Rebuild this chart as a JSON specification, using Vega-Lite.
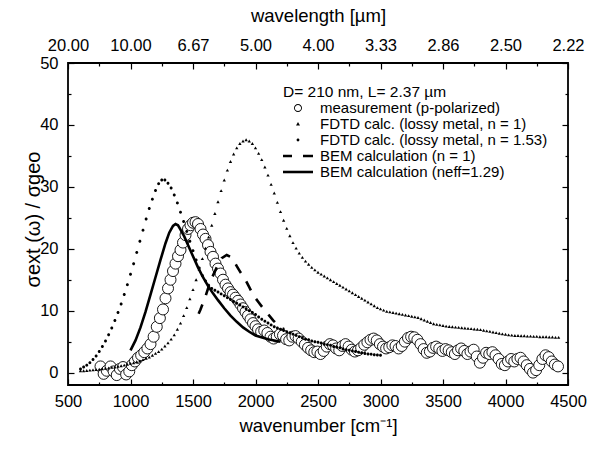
{
  "$schema": "https://vega.github.io/schema/vega-lite/v6.json",
  "width": 500,
  "height": 322,
  "autosize": {"type": "none"},
  "padding": {"left": 68, "top": 63, "right": 22, "bottom": 64},
  "background": "white",
  "config": {
    "view": {"stroke": "black", "strokeWidth": 1.8},
    "font": "Liberation Sans",
    "axis": {"grid": false, "domain": false, "labelFont": "Liberation Sans", "titleFont": "Liberation Sans", "labelColor": "black", "titleColor": "black", "tickColor": "black", "titleFontWeight": "normal", "labelFontSize": 16.5, "titleFontSize": 18.5, "tickWidth": 1.2}
  },
  "datasets": {
    "meas": [
      {"wn":760,"v":1.0},{"wn":785,"v":-0.2},{"wn":810,"v":0.3},{"wn":840,"v":1.0},{"wn":865,"v":0.2},{"wn":890,"v":-0.4},{"wn":915,"v":0.6},{"wn":940,"v":0.9},{"wn":965,"v":-0.3},{"wn":990,"v":0.2},
      {"wn":1010,"v":1.2},{"wn":1035,"v":1.8},{"wn":1060,"v":2.4},{"wn":1085,"v":2.8},{"wn":1110,"v":3.3},{"wn":1135,"v":3.9},{"wn":1160,"v":4.6},{"wn":1185,"v":5.8},{"wn":1210,"v":7.4},{"wn":1235,"v":8.8},
      {"wn":1260,"v":10.2},{"wn":1280,"v":12.0},{"wn":1300,"v":13.6},{"wn":1320,"v":15.0},{"wn":1340,"v":16.4},{"wn":1360,"v":17.6},{"wn":1380,"v":18.8},{"wn":1400,"v":19.8},{"wn":1420,"v":21.0},{"wn":1440,"v":22.2},
      {"wn":1460,"v":23.2},{"wn":1480,"v":23.8},{"wn":1500,"v":24.2},{"wn":1520,"v":24.3},{"wn":1540,"v":24.0},{"wn":1560,"v":23.2},{"wn":1580,"v":22.3},{"wn":1600,"v":21.6},{"wn":1620,"v":20.6},{"wn":1640,"v":19.5},
      {"wn":1660,"v":18.7},{"wn":1680,"v":17.6},{"wn":1700,"v":16.8},{"wn":1720,"v":16.0},{"wn":1740,"v":15.0},{"wn":1760,"v":14.2},{"wn":1780,"v":13.6},{"wn":1800,"v":13.0},{"wn":1820,"v":12.6},{"wn":1840,"v":12.1},
      {"wn":1860,"v":11.6},{"wn":1880,"v":11.0},{"wn":1900,"v":10.4},{"wn":1920,"v":9.8},{"wn":1940,"v":9.2},{"wn":1960,"v":8.6},{"wn":1980,"v":8.0},{"wn":2000,"v":7.5},{"wn":2020,"v":7.0},{"wn":2045,"v":6.6},
      {"wn":2070,"v":6.8},{"wn":2095,"v":6.4},{"wn":2120,"v":5.8},{"wn":2145,"v":5.5},{"wn":2170,"v":5.8},{"wn":2195,"v":6.2},{"wn":2220,"v":6.0},{"wn":2245,"v":5.4},{"wn":2270,"v":5.2},{"wn":2295,"v":5.8},
      {"wn":2320,"v":5.9},{"wn":2345,"v":5.5},{"wn":2370,"v":5.0},{"wn":2395,"v":4.5},{"wn":2420,"v":4.0},{"wn":2445,"v":3.6},{"wn":2470,"v":3.3},{"wn":2495,"v":3.4},{"wn":2520,"v":3.0},{"wn":2545,"v":3.5},
      {"wn":2570,"v":4.2},{"wn":2595,"v":4.6},{"wn":2620,"v":4.4},{"wn":2645,"v":3.9},{"wn":2670,"v":3.6},{"wn":2695,"v":4.3},{"wn":2720,"v":4.6},{"wn":2745,"v":4.2},{"wn":2770,"v":3.7},{"wn":2795,"v":3.4},
      {"wn":2820,"v":3.6},{"wn":2845,"v":4.0},{"wn":2870,"v":4.5},{"wn":2895,"v":4.9},{"wn":2920,"v":5.3},{"wn":2945,"v":5.5},{"wn":2970,"v":5.2},{"wn":2995,"v":4.6},{"wn":3020,"v":4.2},{"wn":3045,"v":3.9},
      {"wn":3070,"v":4.1},{"wn":3095,"v":4.4},{"wn":3120,"v":4.3},{"wn":3145,"v":3.9},{"wn":3170,"v":4.3},{"wn":3195,"v":5.0},{"wn":3220,"v":5.6},{"wn":3245,"v":5.8},{"wn":3270,"v":5.7},{"wn":3295,"v":5.3},
      {"wn":3320,"v":4.6},{"wn":3345,"v":3.8},{"wn":3370,"v":3.2},{"wn":3395,"v":3.4},{"wn":3420,"v":4.0},{"wn":3445,"v":4.2},{"wn":3470,"v":3.9},{"wn":3495,"v":3.5},{"wn":3520,"v":3.8},{"wn":3545,"v":3.6},
      {"wn":3570,"v":3.3},{"wn":3595,"v":3.0},{"wn":3620,"v":3.6},{"wn":3645,"v":3.9},{"wn":3670,"v":3.5},{"wn":3695,"v":3.0},{"wn":3720,"v":3.4},{"wn":3745,"v":3.7},{"wn":3770,"v":2.6},{"wn":3795,"v":1.6},
      {"wn":3820,"v":2.4},{"wn":3845,"v":3.2},{"wn":3870,"v":3.0},{"wn":3895,"v":3.3},{"wn":3920,"v":2.8},{"wn":3945,"v":2.2},{"wn":3970,"v":1.4},{"wn":3995,"v":1.2},{"wn":4020,"v":1.8},{"wn":4045,"v":2.2},
      {"wn":4070,"v":1.8},{"wn":4095,"v":2.2},{"wn":4120,"v":2.4},{"wn":4145,"v":1.8},{"wn":4170,"v":1.2},{"wn":4195,"v":0.6},{"wn":4220,"v":0.0},{"wn":4245,"v":0.4},{"wn":4270,"v":1.2},{"wn":4295,"v":2.2},
      {"wn":4320,"v":2.8},{"wn":4345,"v":2.5},{"wn":4370,"v":1.8},{"wn":4395,"v":1.3},{"wn":4420,"v":1.0}
    ],
    "fdtd1": [
      {"wn":600,"v":0.3},{"wn":625,"v":0.3},{"wn":650,"v":0.35},{"wn":675,"v":0.4},{"wn":700,"v":0.45},{"wn":725,"v":0.5},{"wn":750,"v":0.55},{"wn":775,"v":0.6},{"wn":800,"v":0.7},{"wn":825,"v":0.75},
      {"wn":850,"v":0.85},{"wn":875,"v":0.9},{"wn":900,"v":1.0},{"wn":925,"v":1.1},{"wn":950,"v":1.2},{"wn":975,"v":1.35},{"wn":1000,"v":1.5},{"wn":1025,"v":1.6},{"wn":1050,"v":1.75},{"wn":1075,"v":1.9},
      {"wn":1100,"v":2.1},{"wn":1125,"v":2.3},{"wn":1150,"v":2.5},{"wn":1175,"v":2.8},{"wn":1200,"v":3.1},{"wn":1225,"v":3.4},{"wn":1250,"v":3.8},{"wn":1275,"v":4.3},{"wn":1300,"v":4.8},{"wn":1325,"v":5.4},
      {"wn":1350,"v":6.1},{"wn":1375,"v":7.0},{"wn":1400,"v":8.0},{"wn":1425,"v":9.2},{"wn":1450,"v":10.5},{"wn":1475,"v":11.9},{"wn":1500,"v":13.4},{"wn":1525,"v":15.0},{"wn":1550,"v":16.7},{"wn":1575,"v":18.4},
      {"wn":1600,"v":20.1},{"wn":1625,"v":21.9},{"wn":1650,"v":23.8},{"wn":1675,"v":25.7},{"wn":1700,"v":27.6},{"wn":1725,"v":29.4},{"wn":1750,"v":31.1},{"wn":1775,"v":32.7},{"wn":1800,"v":34.1},{"wn":1825,"v":35.3},
      {"wn":1850,"v":36.3},{"wn":1875,"v":37.0},{"wn":1900,"v":37.4},{"wn":1925,"v":37.6},{"wn":1950,"v":37.4},{"wn":1975,"v":37.0},{"wn":2000,"v":36.3},{"wn":2025,"v":35.4},{"wn":2050,"v":34.4},{"wn":2075,"v":33.2},
      {"wn":2100,"v":31.9},{"wn":2125,"v":30.4},{"wn":2150,"v":29.0},{"wn":2175,"v":27.5},{"wn":2200,"v":26.0},{"wn":2225,"v":24.6},{"wn":2250,"v":23.3},{"wn":2275,"v":22.1},{"wn":2300,"v":21.0},{"wn":2325,"v":20.1},
      {"wn":2350,"v":19.3},{"wn":2375,"v":18.6},{"wn":2400,"v":18.0},{"wn":2425,"v":17.5},{"wn":2450,"v":17.0},{"wn":2475,"v":16.6},{"wn":2500,"v":16.2},{"wn":2525,"v":15.9},{"wn":2550,"v":15.6},{"wn":2575,"v":15.3},
      {"wn":2600,"v":15.0},{"wn":2625,"v":14.7},{"wn":2650,"v":14.4},{"wn":2675,"v":14.1},{"wn":2700,"v":13.8},{"wn":2725,"v":13.5},{"wn":2750,"v":13.2},{"wn":2775,"v":12.9},{"wn":2800,"v":12.6},{"wn":2825,"v":12.3},
      {"wn":2850,"v":12.0},{"wn":2875,"v":11.7},{"wn":2900,"v":11.4},{"wn":2925,"v":11.1},{"wn":2950,"v":10.8},{"wn":2975,"v":10.5},{"wn":3000,"v":10.3},{"wn":3025,"v":10.1},{"wn":3050,"v":9.9},{"wn":3075,"v":9.8},
      {"wn":3100,"v":9.7},{"wn":3125,"v":9.6},{"wn":3150,"v":9.5},{"wn":3175,"v":9.4},{"wn":3200,"v":9.3},{"wn":3225,"v":9.2},{"wn":3250,"v":9.1},{"wn":3275,"v":9.0},{"wn":3300,"v":8.9},{"wn":3325,"v":8.7},
      {"wn":3350,"v":8.5},{"wn":3375,"v":8.3},{"wn":3400,"v":8.1},{"wn":3425,"v":7.9},{"wn":3450,"v":7.8},{"wn":3475,"v":7.7},{"wn":3500,"v":7.6},{"wn":3525,"v":7.5},{"wn":3550,"v":7.45},{"wn":3575,"v":7.4},
      {"wn":3600,"v":7.35},{"wn":3625,"v":7.3},{"wn":3650,"v":7.25},{"wn":3675,"v":7.2},{"wn":3700,"v":7.15},{"wn":3725,"v":7.1},{"wn":3750,"v":7.05},{"wn":3775,"v":7.0},{"wn":3800,"v":6.95},{"wn":3825,"v":6.85},
      {"wn":3850,"v":6.75},{"wn":3875,"v":6.65},{"wn":3900,"v":6.55},{"wn":3925,"v":6.45},{"wn":3950,"v":6.35},{"wn":3975,"v":6.25},{"wn":4000,"v":6.2},{"wn":4025,"v":6.1},{"wn":4050,"v":6.05},{"wn":4075,"v":6.0},
      {"wn":4100,"v":6.0},{"wn":4125,"v":5.95},{"wn":4150,"v":5.95},{"wn":4175,"v":5.9},{"wn":4200,"v":5.9},{"wn":4225,"v":5.85},{"wn":4250,"v":5.85},{"wn":4275,"v":5.8},{"wn":4300,"v":5.8},{"wn":4325,"v":5.8},
      {"wn":4350,"v":5.75},{"wn":4375,"v":5.75},{"wn":4400,"v":5.7},{"wn":4425,"v":5.7}
    ],
    "fdtd153": [
      {"wn":600,"v":0.6,"s":"FDTD calc. (lossy metal, n = 1.53)"},{"wn":625,"v":0.9,"s":"FDTD calc. (lossy metal, n = 1.53)"},{"wn":650,"v":1.2,"s":"FDTD calc. (lossy metal, n = 1.53)"},{"wn":675,"v":1.6,"s":"FDTD calc. (lossy metal, n = 1.53)"},{"wn":700,"v":2.1,"s":"FDTD calc. (lossy metal, n = 1.53)"},{"wn":725,"v":2.7,"s":"FDTD calc. (lossy metal, n = 1.53)"},{"wn":750,"v":3.4,"s":"FDTD calc. (lossy metal, n = 1.53)"},{"wn":775,"v":4.2,"s":"FDTD calc. (lossy metal, n = 1.53)"},{"wn":800,"v":5.1,"s":"FDTD calc. (lossy metal, n = 1.53)"},{"wn":825,"v":6.1,"s":"FDTD calc. (lossy metal, n = 1.53)"},
      {"wn":850,"v":7.2,"s":"FDTD calc. (lossy metal, n = 1.53)"},{"wn":875,"v":8.4,"s":"FDTD calc. (lossy metal, n = 1.53)"},{"wn":900,"v":9.7,"s":"FDTD calc. (lossy metal, n = 1.53)"},{"wn":925,"v":11.1,"s":"FDTD calc. (lossy metal, n = 1.53)"},{"wn":950,"v":12.6,"s":"FDTD calc. (lossy metal, n = 1.53)"},{"wn":975,"v":14.2,"s":"FDTD calc. (lossy metal, n = 1.53)"},{"wn":1000,"v":15.9,"s":"FDTD calc. (lossy metal, n = 1.53)"},{"wn":1025,"v":17.6,"s":"FDTD calc. (lossy metal, n = 1.53)"},{"wn":1050,"v":19.4,"s":"FDTD calc. (lossy metal, n = 1.53)"},{"wn":1075,"v":21.2,"s":"FDTD calc. (lossy metal, n = 1.53)"},
      {"wn":1100,"v":23.0,"s":"FDTD calc. (lossy metal, n = 1.53)"},{"wn":1125,"v":24.8,"s":"FDTD calc. (lossy metal, n = 1.53)"},{"wn":1150,"v":26.5,"s":"FDTD calc. (lossy metal, n = 1.53)"},{"wn":1175,"v":28.0,"s":"FDTD calc. (lossy metal, n = 1.53)"},{"wn":1200,"v":29.4,"s":"FDTD calc. (lossy metal, n = 1.53)"},{"wn":1225,"v":30.5,"s":"FDTD calc. (lossy metal, n = 1.53)"},{"wn":1250,"v":31.1,"s":"FDTD calc. (lossy metal, n = 1.53)"},{"wn":1275,"v":31.1,"s":"FDTD calc. (lossy metal, n = 1.53)"},{"wn":1300,"v":30.6,"s":"FDTD calc. (lossy metal, n = 1.53)"},{"wn":1325,"v":29.8,"s":"FDTD calc. (lossy metal, n = 1.53)"},
      {"wn":1350,"v":28.7,"s":"FDTD calc. (lossy metal, n = 1.53)"},{"wn":1375,"v":27.4,"s":"FDTD calc. (lossy metal, n = 1.53)"},{"wn":1400,"v":25.9,"s":"FDTD calc. (lossy metal, n = 1.53)"},{"wn":1425,"v":24.4,"s":"FDTD calc. (lossy metal, n = 1.53)"},{"wn":1450,"v":22.8,"s":"FDTD calc. (lossy metal, n = 1.53)"},{"wn":1475,"v":21.2,"s":"FDTD calc. (lossy metal, n = 1.53)"},{"wn":1500,"v":19.7,"s":"FDTD calc. (lossy metal, n = 1.53)"},{"wn":1525,"v":18.2,"s":"FDTD calc. (lossy metal, n = 1.53)"},{"wn":1550,"v":16.9,"s":"FDTD calc. (lossy metal, n = 1.53)"},{"wn":1575,"v":15.7,"s":"FDTD calc. (lossy metal, n = 1.53)"},
      {"wn":1600,"v":14.8,"s":"FDTD calc. (lossy metal, n = 1.53)"},{"wn":1625,"v":14.1,"s":"FDTD calc. (lossy metal, n = 1.53)"},{"wn":1650,"v":13.6,"s":"FDTD calc. (lossy metal, n = 1.53)"},{"wn":1675,"v":13.3,"s":"FDTD calc. (lossy metal, n = 1.53)"},{"wn":1700,"v":13.0,"s":"FDTD calc. (lossy metal, n = 1.53)"},{"wn":1725,"v":12.7,"s":"FDTD calc. (lossy metal, n = 1.53)"},{"wn":1750,"v":12.4,"s":"FDTD calc. (lossy metal, n = 1.53)"},{"wn":1775,"v":12.1,"s":"FDTD calc. (lossy metal, n = 1.53)"},{"wn":1800,"v":11.8,"s":"FDTD calc. (lossy metal, n = 1.53)"},{"wn":1825,"v":11.5,"s":"FDTD calc. (lossy metal, n = 1.53)"},
      {"wn":1850,"v":11.2,"s":"FDTD calc. (lossy metal, n = 1.53)"},{"wn":1875,"v":10.9,"s":"FDTD calc. (lossy metal, n = 1.53)"},{"wn":1900,"v":10.6,"s":"FDTD calc. (lossy metal, n = 1.53)"},{"wn":1925,"v":10.3,"s":"FDTD calc. (lossy metal, n = 1.53)"},{"wn":1950,"v":10.0,"s":"FDTD calc. (lossy metal, n = 1.53)"},{"wn":1975,"v":9.7,"s":"FDTD calc. (lossy metal, n = 1.53)"},{"wn":2000,"v":9.4,"s":"FDTD calc. (lossy metal, n = 1.53)"},{"wn":2025,"v":9.0,"s":"FDTD calc. (lossy metal, n = 1.53)"},{"wn":2050,"v":8.6,"s":"FDTD calc. (lossy metal, n = 1.53)"},{"wn":2075,"v":8.3,"s":"FDTD calc. (lossy metal, n = 1.53)"},
      {"wn":2100,"v":8.0,"s":"FDTD calc. (lossy metal, n = 1.53)"},{"wn":2125,"v":7.7,"s":"FDTD calc. (lossy metal, n = 1.53)"},{"wn":2150,"v":7.4,"s":"FDTD calc. (lossy metal, n = 1.53)"},{"wn":2175,"v":7.2,"s":"FDTD calc. (lossy metal, n = 1.53)"},{"wn":2200,"v":7.0,"s":"FDTD calc. (lossy metal, n = 1.53)"},{"wn":2225,"v":6.8,"s":"FDTD calc. (lossy metal, n = 1.53)"},{"wn":2250,"v":6.6,"s":"FDTD calc. (lossy metal, n = 1.53)"},{"wn":2275,"v":6.4,"s":"FDTD calc. (lossy metal, n = 1.53)"},{"wn":2300,"v":6.2,"s":"FDTD calc. (lossy metal, n = 1.53)"},{"wn":2325,"v":6.0,"s":"FDTD calc. (lossy metal, n = 1.53)"},
      {"wn":2350,"v":5.8,"s":"FDTD calc. (lossy metal, n = 1.53)"},{"wn":2375,"v":5.6,"s":"FDTD calc. (lossy metal, n = 1.53)"},{"wn":2400,"v":5.4,"s":"FDTD calc. (lossy metal, n = 1.53)"},{"wn":2425,"v":5.3,"s":"FDTD calc. (lossy metal, n = 1.53)"},{"wn":2450,"v":5.1,"s":"FDTD calc. (lossy metal, n = 1.53)"},{"wn":2475,"v":5.0,"s":"FDTD calc. (lossy metal, n = 1.53)"},{"wn":2500,"v":4.9,"s":"FDTD calc. (lossy metal, n = 1.53)"},{"wn":2525,"v":4.8,"s":"FDTD calc. (lossy metal, n = 1.53)"},{"wn":2550,"v":4.6,"s":"FDTD calc. (lossy metal, n = 1.53)"},{"wn":2575,"v":4.5,"s":"FDTD calc. (lossy metal, n = 1.53)"},
      {"wn":2600,"v":4.4,"s":"FDTD calc. (lossy metal, n = 1.53)"},{"wn":2625,"v":4.2,"s":"FDTD calc. (lossy metal, n = 1.53)"},{"wn":2650,"v":4.1,"s":"FDTD calc. (lossy metal, n = 1.53)"},{"wn":2675,"v":4.0,"s":"FDTD calc. (lossy metal, n = 1.53)"},{"wn":2700,"v":3.8,"s":"FDTD calc. (lossy metal, n = 1.53)"},{"wn":2725,"v":3.7,"s":"FDTD calc. (lossy metal, n = 1.53)"},{"wn":2750,"v":3.6,"s":"FDTD calc. (lossy metal, n = 1.53)"},{"wn":2775,"v":3.5,"s":"FDTD calc. (lossy metal, n = 1.53)"},{"wn":2800,"v":3.4,"s":"FDTD calc. (lossy metal, n = 1.53)"},{"wn":2825,"v":3.3,"s":"FDTD calc. (lossy metal, n = 1.53)"},
      {"wn":2850,"v":3.2,"s":"FDTD calc. (lossy metal, n = 1.53)"},{"wn":2875,"v":3.1,"s":"FDTD calc. (lossy metal, n = 1.53)"},{"wn":2900,"v":3.0,"s":"FDTD calc. (lossy metal, n = 1.53)"},{"wn":2925,"v":2.95,"s":"FDTD calc. (lossy metal, n = 1.53)"},{"wn":2950,"v":2.9,"s":"FDTD calc. (lossy metal, n = 1.53)"},{"wn":2975,"v":2.85,"s":"FDTD calc. (lossy metal, n = 1.53)"},{"wn":3000,"v":2.8,"s":"FDTD calc. (lossy metal, n = 1.53)"}
    ],
    "bem1": [
      {"wn":1545,"v":9.5},{"wn":1560,"v":10.2},{"wn":1600,"v":12.3},{"wn":1640,"v":14.8},{"wn":1690,"v":17.0},{"wn":1730,"v":18.5},{"wn":1770,"v":19.0},{"wn":1810,"v":18.6},{"wn":1850,"v":17.2},{"wn":1880,"v":16.2},
      {"wn":1916,"v":15.1},{"wn":1950,"v":13.8},{"wn":1983,"v":12.5},{"wn":2023,"v":11.4},{"wn":2076,"v":10.0},{"wn":2110,"v":9.2},{"wn":2143,"v":8.4},{"wn":2196,"v":7.3},{"wn":2230,"v":7.0}
    ],
    "bem129": [
      {"wn":1000,"v":3.6},{"wn":1040,"v":5.2},{"wn":1080,"v":7.3},{"wn":1120,"v":9.8},{"wn":1160,"v":12.6},{"wn":1200,"v":15.4},{"wn":1240,"v":18.2},{"wn":1280,"v":20.9},{"wn":1310,"v":22.6},{"wn":1340,"v":23.7},
      {"wn":1360,"v":24.0},{"wn":1380,"v":23.8},{"wn":1400,"v":23.1},{"wn":1430,"v":22.0},{"wn":1460,"v":20.6},{"wn":1500,"v":18.8},{"wn":1540,"v":17.0},{"wn":1580,"v":15.4},{"wn":1620,"v":14.0},{"wn":1660,"v":12.8},
      {"wn":1700,"v":11.7},{"wn":1750,"v":10.4},{"wn":1800,"v":9.2},{"wn":1850,"v":8.2},{"wn":1900,"v":7.3},{"wn":1950,"v":6.6},{"wn":2000,"v":6.0},{"wn":2100,"v":5.4},{"wn":2200,"v":5.0}
    ]
  },
  "layer": [
    {
      "data": {"name": "meas"},
      "mark": {"type": "point", "shape": "circle", "size": 121, "filled": true, "fill": "white", "stroke": "black", "strokeWidth": 0.9, "opacity": 1},
      "encoding": {
        "x": {"field": "wn", "type": "quantitative", "scale": {"domain": [500, 4500], "nice": false, "zero": false},
          "axis": {"orient": "bottom", "values": [500,750,1000,1250,1500,1750,2000,2250,2500,2750,3000,3250,3500,3750,4000,4250,4500], "format": "d",
            "labelExpr": "datum.value % 500 === 0 ? datum.label : ''",
            "tickSize": {"condition": {"test": "datum.value % 500 === 0", "value": -6}, "value": -3},
            "labelPadding": 14, "labelFlush": false, "labelOverlap": false, "title": "wavenumber [cm⁻¹]", "titlePadding": 4}},
        "y": {"field": "v", "type": "quantitative", "scale": {"domain": [-2, 50], "nice": false, "zero": false},
          "axis": {"orient": "left", "values": [0,5,10,15,20,25,30,35,40,45,50],
            "labelExpr": "datum.value % 10 === 0 ? datum.label : ''",
            "tickSize": {"condition": {"test": "datum.value % 10 === 0", "value": -6}, "value": -3},
            "labelPadding": 16, "labelOverlap": false, "title": "σext  (ω)   /  σgeo", "titleFontSize": 20, "titleX": -25, "titleY": 156}}
      }
    },
    {
      "data": {"name": "fdtd1"},
      "mark": {"type": "point", "shape": "triangle-up", "size": 11, "filled": true, "color": "black", "opacity": 1},
      "encoding": {
        "x": {"field": "wn", "type": "quantitative", "scale": {"domain": [500, 4500], "nice": false, "zero": false},
          "axis": {"orient": "top", "values": [500,750,1000,1250,1500,1750,2000,2250,2500,2750,3000,3250,3500,3750,4000,4250,4500],
            "labelExpr": "datum.value % 500 === 0 ? format(10000 / datum.value, '.2f') : ''",
            "tickSize": {"condition": {"test": "datum.value % 500 === 0", "value": -6}, "value": -3},
            "labelPadding": 16, "labelFlush": false, "labelOverlap": false, "title": "wavelength [µm]", "titlePadding": 9}},
        "y": {"field": "v", "type": "quantitative", "scale": {"domain": [-2, 50], "nice": false, "zero": false},
          "axis": {"orient": "right", "values": [0,5,10,15,20,25,30,35,40,45,50], "labels": false, "title": null,
            "tickSize": {"condition": {"test": "datum.value % 10 === 0", "value": -6}, "value": -3}}}
      }
    },
    {
      "data": {"name": "fdtd153"},
      "mark": {"type": "point", "size": 73, "filled": true, "color": "black", "opacity": 1},
      "encoding": {
        "x": {"field": "wn", "type": "quantitative", "axis": null},
        "y": {"field": "v", "type": "quantitative", "axis": null},
        "shape": {"field": "s", "type": "nominal",
          "scale": {"domain": ["measurement (p-polarized)", "FDTD calc. (lossy metal, n = 1)", "FDTD calc. (lossy metal, n = 1.53)", "BEM calculation (n = 1)", "BEM calculation (neff=1.29)"],
            "range": ["M-1,0A1,1,0,1,0,1,0A1,1,0,1,0,-1,0ZM-0.78,0A0.78,0.78,0,1,1,0.78,0A0.78,0.78,0,1,1,-0.78,0Z", "M0,-0.5L0.5,0.4L-0.5,0.4Z", "M-0.35,0A0.35,0.35,0,1,0,0.35,0A0.35,0.35,0,1,0,-0.35,0Z", "M-3.75,-0.32H-1.5V0.32H-3.75ZM1.25,-0.32H3.75V0.32H1.25Z", "M-3.75,-0.32H3.75V0.32H-3.75Z"]},
          "legend": {"orient": "none", "legendX": 215, "legendY": 22, "padding": 0,
            "title": "D= 210 nm, L= 2.37 µm", "titleFont": "Liberation Sans", "titleFontSize": 15.5, "titleFontWeight": "normal", "titleColor": "black", "titlePadding": 0,
            "labelFont": "Liberation Sans", "labelFontSize": 15, "labelColor": "black", "labelLimit": 400,
            "symbolSize": 64, "symbolStrokeWidth": 0, "symbolFillColor": "black", "symbolOpacity": 1, "symbolOffset": 7.5, "labelOffset": 14.5, "rowPadding": 0}}
      }
    },
    {
      "data": {"name": "bem1"},
      "mark": {"type": "line", "color": "black", "strokeWidth": 2.6, "strokeDash": [10, 10]},
      "encoding": {
        "x": {"field": "wn", "type": "quantitative", "axis": null},
        "y": {"field": "v", "type": "quantitative", "axis": null}
      }
    },
    {
      "data": {"name": "bem129"},
      "mark": {"type": "line", "color": "black", "strokeWidth": 2.6},
      "encoding": {
        "x": {"field": "wn", "type": "quantitative", "axis": null},
        "y": {"field": "v", "type": "quantitative", "axis": null}
      }
    }
  ],
  "resolve": {"axis": {"x": "independent", "y": "independent"}}
}
